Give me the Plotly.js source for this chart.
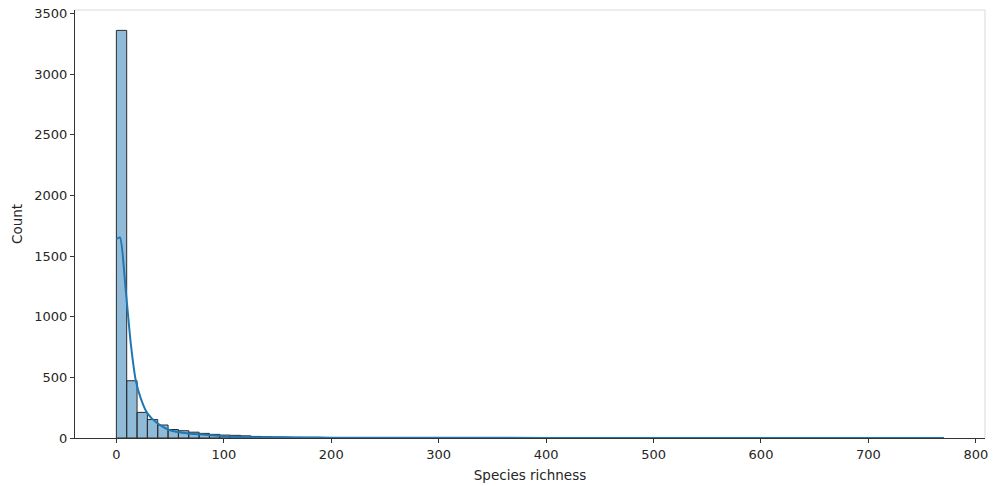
<!DOCTYPE html>
<html>
<head>
<meta charset="utf-8">
<script src="https://cdn.plot.ly/plotly-3.0.1.min.js"></script>
<style>html,body{margin:0;padding:0;background:#fff;}#chart{width:997px;height:486px;}</style>
</head>
<body>
<div id="chart"></div>
<script>
// Histogram bins (Species richness), 80 bins from 0 to 770
const binStart = 0;
const binEnd = 770;
const counts = [
  3360, 472, 211, 152, 107, 70, 60, 48, 38, 30,
  24, 22, 18, 13, 10, 8, 7, 6, 5, 5,
  4, 4, 3, 3, 3, 2, 2, 2, 2, 2,
  2, 1, 1, 1, 1, 1, 1, 1, 1, 1,
  1, 1, 1, 1, 1, 1, 1, 1, 1, 1,
  1, 1, 1, 1, 1, 1, 1, 1, 1, 1,
  1, 1, 1, 1, 1, 1, 1, 1, 1, 1,
  1, 1, 1, 1, 1, 1, 1, 1, 1, 1
];
// KDE curve points
const kdeX = [0, 3.3, 8.7, 13.4, 18, 22.7, 28.9, 38.2, 49, 61.5, 77, 95, 108, 123.5, 140, 155, 175, 200, 250, 300, 400, 500, 600, 700, 770];
const kdeY = [1640, 1653, 1219, 780, 478, 327, 203, 121, 66, 44, 30, 18, 11, 6, 5, 6, 4, 3, 2, 1.5, 1, 1, 1, 1, 1];
const xTicks = [0, 100, 200, 300, 400, 500, 600, 700, 800];
const yTicks = [0, 500, 1000, 1500, 2000, 2500, 3000, 3500];

const nBins = counts.length;
const bw = (binEnd - binStart) / nBins;
const centers = counts.map((_, i) => binStart + bw * (i + 0.5));

const bars = {
  type: 'bar', x: centers, y: counts, width: bw,
  marker: {color: 'rgba(31,119,180,0.5)', line: {color: '#2b2b2b', width: 1}},
  hoverinfo: 'x+y', showlegend: false
};
const kde = {
  type: 'scatter', mode: 'lines', x: kdeX, y: kdeY,
  line: {color: '#1f77b4', width: 2, shape: 'spline', smoothing: 0.6},
  showlegend: false
};
const tickFont = {family: 'DejaVu Sans', size: 13, color: '#262626'};
const titleFont = {family: 'DejaVu Sans', size: 13.5, color: '#262626'};
const layout = {
  width: 997, height: 486,
  margin: {l: 75, r: 12, t: 10, b: 48},
  paper_bgcolor: '#fff', plot_bgcolor: '#fff',
  bargap: 0,
  xaxis: {
    range: [-38.5, 808.5], tickvals: xTicks, ticktext: xTicks.map(String),
    showgrid: false, zeroline: false, showline: true, linecolor: '#333', linewidth: 1,
    ticks: 'outside', ticklen: 4, tickcolor: '#333', tickfont: tickFont,
    title: {text: 'Species richness', font: titleFont, standoff: 9}
  },
  yaxis: {
    range: [0, 3528], tickvals: yTicks, ticktext: yTicks.map(String),
    showgrid: false, zeroline: false, showline: true, linecolor: '#333', linewidth: 1,
    ticks: 'outside', ticklen: 4, tickcolor: '#333', tickfont: tickFont,
    title: {text: 'Count', font: titleFont, standoff: 8}
  },
  shapes: [
    {type: 'line', xref: 'paper', yref: 'paper', x0: 0, x1: 1, y0: 1, y1: 1, line: {color: '#d9d9d9', width: 1}},
    {type: 'line', xref: 'paper', yref: 'paper', x0: 1, x1: 1, y0: 0, y1: 1, line: {color: '#d9d9d9', width: 1}}
  ]
};
Plotly.newPlot('chart', [bars, kde], layout, {displayModeBar: false, staticPlot: true});
</script>
</body>
</html>
